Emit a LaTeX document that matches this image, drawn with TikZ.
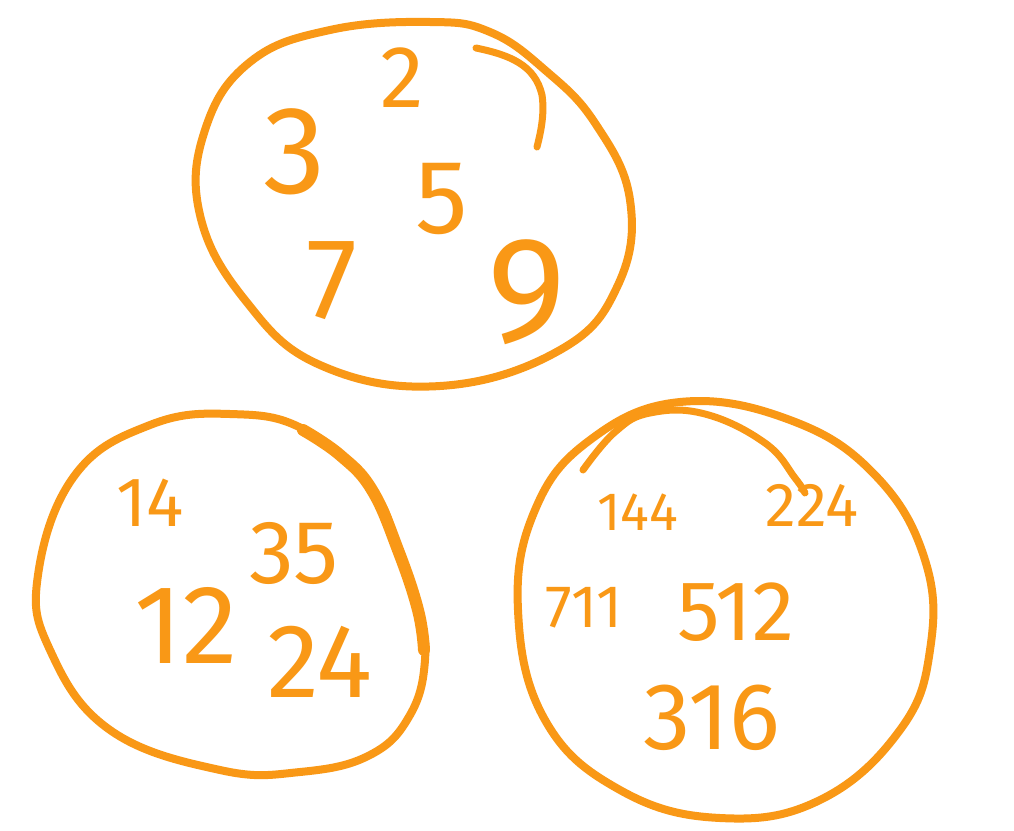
\documentclass[tikz,border=0pt]{standalone}
\usepackage{fontspec}
\setmainfont{Fira Sans}
\definecolor{pen}{RGB}{249,152,22}
\begin{document}
\begin{tikzpicture}[x=1pt,y=-1pt,
  blob/.style={draw=pen,line width=8pt,line cap=round,line join=round},
  stroke/.style={draw=pen,line width=7pt,line cap=round},
  num/.style={text=pen,inner sep=0pt,font=\fontsize{#1}{#1}\selectfont},
  num/.default=60]
\fill[white] (0,0) rectangle (1014,830);
\useasboundingbox (0,0) rectangle (1014,830);
% top blob
\path[blob] plot[smooth cycle,tension=0.7] coordinates {
  (250,62) (330,30) (430,22) (490,32) (545,70) (595,123) (630,200) (618,285)
  (560,350) (440,386) (320,365) (245,300) (200,215) (205,130)};
\coordinate (ta) at (476,48);
\coordinate (tb) at (537,147);
\path[stroke] (ta) .. controls (510,55) and (535,65) .. (542,95) .. controls (545,115) and (540,135) .. (tb);
% bottom left blob
\path[blob] plot[smooth cycle,tension=0.7] coordinates {
  (230,414) (305,430) (372,490) (398,550) (418,610) (425,660) (410,715) (370,755)
  (300,772) (220,770) (110,730) (50,650) (38,575) (75,475) (150,425)};
\path[draw=pen,line width=12pt,line cap=round] plot[smooth,tension=0.7] coordinates {
  (303,430) (340,455) (372,490) (398,550) (418,610) (424,650)};
% bottom right blob
\path[blob] plot[smooth cycle,tension=0.7] coordinates {
  (680,402) (790,420) (875,475) (925,560) (930,650) (900,730) (820,800) (720,818)
  (620,790) (545,720) (518,610) (535,510) (590,440)};
\coordinate (ra) at (583,470);
\coordinate (rb) at (805,493);
\path[stroke] plot[smooth,tension=0.7] coordinates {
  (ra) (615,432) (650,413) (705,414) (765,443) (795,478) (rb)};
% top numbers
\node[num=88] (n2) at (402,78) {2};
\node[num=125] (n3) at (295,152) {3};
\node[num=105] (n5) at (442,199) {5};
\node[num=115] (n7) at (332,281) {7};
\node[num=150] (n9) at (527,292) {9};
% bottom left numbers
\node[num=70] (n14) at (150,503) {14};
\node[num=90] (n35) at (294,553) {35};
\node[num=112] (n12) at (186,625) {12};
\node[num=105] (n24) at (320,662) {24};
% bottom right numbers
\node[num=54] (n144) at (638,512) {144};
\node[num=62] (n224) at (812,505) {224};
\node[num=60] (n711) at (584,608) {711};
\node[num=85] (n512) at (736,612) {512};
\node[num=95] (n316) at (712,718) {316};
\end{tikzpicture}
\end{document}
